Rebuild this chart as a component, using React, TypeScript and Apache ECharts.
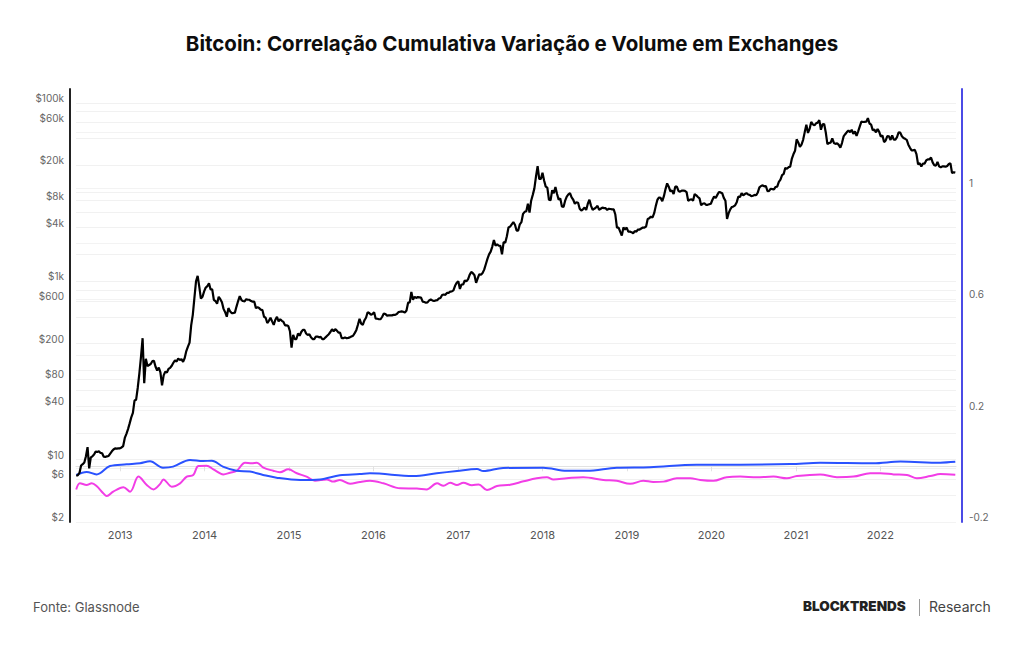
import { useEffect, useRef } from "react";
import * as echarts from "echarts";

// Weekly BTC closes (USD); each list starts on the Monday given in PRICE_STARTS.
const PRICE_2012 = [6.6, 6.7, 7.1, 8.6, 8.9, 9.3, 10.9, 13.8, 8.0, 10.6, 10.9, 11.4, 12.3, 12.2, 12.4, 11.9, 11.8, 10.8, 10.7, 10.9, 11.0, 11.7, 12.4, 13.0, 13.4, 13.3, 13.4, 13.4];
const PRICE_2013 = [13.7, 14.2, 17.5, 19.5, 22.0, 25.5, 29.8, 33.5, 46, 47, 64, 93, 142, 230, 72, 135, 112, 115, 118, 127, 128, 110, 100, 108, 95, 68, 88, 97, 95, 104, 107, 113, 122, 130, 126, 136, 131, 134, 125, 138, 165, 185, 205, 320, 420, 650, 1000, 1150, 870, 640, 670, 770];
const PRICE_2014 = [850, 880, 950, 810, 810, 620, 600, 560, 670, 630, 580, 490, 450, 400, 500, 460, 440, 440, 445, 520, 600, 680, 620, 600, 595, 630, 620, 620, 600, 590, 590, 500, 510, 500, 480, 475, 400, 390, 340, 360, 390, 355, 325, 370, 400, 355, 375, 360, 350, 320, 320, 315];
const PRICE_2015 = [275, 180, 250, 225, 225, 260, 245, 270, 285, 285, 260, 250, 255, 235, 225, 225, 240, 240, 235, 238, 225, 225, 235, 245, 255, 270, 290, 275, 290, 280, 265, 265, 230, 230, 235, 230, 232, 235, 240, 245, 262, 283, 325, 380, 335, 325, 365, 390, 450, 440, 420, 430];
const PRICE_2016 = [450, 380, 380, 375, 375, 400, 435, 430, 410, 415, 415, 415, 420, 420, 430, 450, 455, 460, 455, 445, 470, 575, 580, 760, 620, 670, 650, 665, 660, 655, 590, 585, 575, 580, 610, 625, 610, 600, 610, 615, 640, 650, 700, 710, 705, 740, 740, 765, 770, 790, 890, 960];
const PRICE_2017 = [1000, 820, 920, 920, 1020, 1000, 1050, 1180, 1270, 1230, 1170, 960, 1080, 1200, 1180, 1240, 1350, 1550, 1780, 2000, 2150, 2450, 2900, 2500, 2600, 2500, 2500, 2000, 2750, 2700, 3200, 4000, 4100, 4350, 4600, 4300, 3700, 3700, 4350, 4600, 5700, 6000, 6100, 7400, 5900, 8000, 9300, 11000, 15000, 19500, 14000, 14000];
const PRICE_2018 = [16500, 13500, 11500, 11200, 8200, 8100, 10500, 9700, 11400, 9500, 8200, 8500, 6900, 6800, 8000, 8900, 9400, 9700, 8700, 8200, 7400, 7700, 7600, 6500, 6200, 6400, 6700, 6300, 7400, 8200, 7000, 6300, 6500, 6700, 7000, 6300, 6500, 6700, 6600, 6600, 6300, 6500, 6450, 6400, 6400, 5600, 4000, 4000, 3600, 3250, 4000, 3800, 4000];
const PRICE_2019 = [3600, 3600, 3550, 3450, 3650, 3600, 3800, 3800, 3900, 4000, 4000, 4100, 5000, 5100, 5300, 5200, 5800, 7000, 8200, 8700, 8600, 7900, 9000, 10800, 12500, 11500, 10200, 10400, 9500, 11500, 11500, 10300, 10100, 10400, 10400, 10300, 10000, 8000, 8200, 8300, 8000, 9500, 9200, 8800, 8500, 7100, 7400, 7500, 7200, 7200, 7300, 7400];
const PRICE_2020 = [8200, 8900, 8600, 9300, 10000, 9900, 9700, 8600, 8000, 5000, 5800, 6400, 6800, 6900, 7100, 7700, 8900, 8800, 9700, 9200, 9500, 9700, 9400, 9300, 9000, 9100, 9300, 9200, 9900, 11300, 11700, 11900, 11600, 11700, 10200, 10300, 10900, 10800, 10700, 11400, 11500, 13000, 13800, 15500, 16000, 18700, 18200, 19000, 19200, 23500, 26500, 29000];
const PRICE_2021 = [39000, 36000, 32000, 34000, 38500, 47000, 57000, 46000, 51000, 61000, 57500, 55800, 59000, 60000, 64000, 50000, 57500, 58000, 46500, 34500, 35500, 35800, 40000, 35500, 34700, 35300, 33800, 31500, 35400, 42000, 44500, 47000, 49000, 47000, 49900, 45000, 48000, 42700, 48000, 54500, 61500, 61000, 61300, 61500, 67500, 58700, 57000, 49400, 50100, 46700, 50800, 47300];
const PRICE_2022 = [41800, 43100, 36300, 37900, 42400, 42200, 38400, 43200, 38800, 38800, 41300, 46800, 46400, 42200, 40400, 39500, 38500, 34000, 31300, 29400, 29400, 29800, 26600, 20500, 21000, 19300, 20900, 20800, 22600, 23300, 23200, 24400, 21500, 20000, 19800, 21800, 19400, 18900, 19400, 19400, 19200, 19600, 20600, 21000, 16300, 16700, 16500];

const PRICE_STARTS: [string, number[]][] = [
  ["2012-06-25", PRICE_2012],
  ["2013-01-07", PRICE_2013],
  ["2014-01-06", PRICE_2014],
  ["2015-01-05", PRICE_2015],
  ["2016-01-04", PRICE_2016],
  ["2017-01-02", PRICE_2017],
  ["2018-01-01", PRICE_2018],
  ["2019-01-07", PRICE_2019],
  ["2020-01-06", PRICE_2020],
  ["2021-01-04", PRICE_2021],
  ["2022-01-03", PRICE_2022],
];

// Cumulative correlation (right axis)
const CORR_BLUE: [string, number][] = [
  ["2012-06-25", -0.031], ["2012-08-09", -0.02], ["2012-09-21", -0.029], ["2012-11-18", 0.001],
  ["2013-01-29", 0.007], ["2013-03-28", 0.011], ["2013-05-10", 0.018], ["2013-07-05", -0.005],
  ["2013-08-18", -0.001], ["2013-10-30", 0.023], ["2013-12-25", 0.019], ["2014-02-01", 0.02],
  ["2014-03-21", -0.001], ["2014-05-19", -0.016], ["2014-07-16", -0.019], ["2014-09-11", -0.031],
  ["2014-11-08", -0.041], ["2015-02-18", -0.049], ["2015-05-15", -0.047], ["2015-08-09", -0.032],
  ["2015-11-03", -0.028], ["2015-12-17", -0.025], ["2016-06-21", -0.035], ["2016-10-01", -0.025],
  ["2016-12-27", -0.017], ["2017-03-24", -0.01], ["2017-04-20", -0.017], ["2017-07-15", -0.006],
  ["2018-01-04", -0.005], ["2018-04-16", -0.016], ["2018-07-11", -0.016], ["2018-11-18", -0.005],
  ["2019-04-11", -0.003], ["2019-10-30", 0.006], ["2020-05-06", 0.006], ["2020-12-08", 0.008],
  ["2021-04-16", 0.013], ["2021-12-01", 0.011], ["2022-03-29", 0.017], ["2022-09-17", 0.013],
  ["2022-11-21", 0.016],
];

const CORR_PINK: [string, number][] = [
  ["2012-06-25", -0.083], ["2012-07-11", -0.061], ["2012-08-09", -0.067], ["2012-08-31", -0.061],
  ["2012-09-21", -0.071], ["2012-10-20", -0.097], ["2012-11-04", -0.107], ["2012-12-02", -0.091],
  ["2013-01-15", -0.075], ["2013-02-13", -0.091], ["2013-03-21", -0.037], ["2013-04-26", -0.067],
  ["2013-05-25", -0.083], ["2013-06-23", -0.063], ["2013-07-07", -0.047], ["2013-08-12", -0.073],
  ["2013-09-17", -0.061], ["2013-10-16", -0.037], ["2013-11-13", -0.031], ["2013-12-05", 0.001],
  ["2014-01-10", 0.002], ["2014-02-08", -0.011], ["2014-03-23", -0.029], ["2014-04-21", -0.023],
  ["2014-05-20", -0.016], ["2014-06-25", 0.013], ["2014-07-24", 0.011], ["2014-08-15", 0.013],
  ["2014-09-12", -0.005], ["2014-10-25", -0.016], ["2014-11-23", -0.021], ["2014-12-29", -0.011],
  ["2015-02-04", -0.025], ["2015-03-18", -0.037], ["2015-04-23", -0.052], ["2015-06-13", -0.047],
  ["2015-07-12", -0.055], ["2015-08-09", -0.049], ["2015-09-22", -0.063], ["2015-11-04", -0.056],
  ["2015-12-17", -0.052], ["2016-02-13", -0.061], ["2016-04-26", -0.079], ["2016-07-07", -0.08],
  ["2016-08-18", -0.083], ["2016-10-02", -0.061], ["2016-10-30", -0.07], ["2016-11-28", -0.059],
  ["2016-12-27", -0.067], ["2017-01-24", -0.059], ["2017-03-02", -0.068], ["2017-03-31", -0.065],
  ["2017-05-06", -0.085], ["2017-06-18", -0.071], ["2017-08-14", -0.066], ["2017-10-11", -0.054],
  ["2017-12-07", -0.043], ["2018-01-20", -0.039], ["2018-02-17", -0.047], ["2018-04-16", -0.043],
  ["2018-06-26", -0.039], ["2018-09-21", -0.049], ["2018-11-18", -0.052], ["2019-01-15", -0.063],
  ["2019-03-13", -0.052], ["2019-04-25", -0.056], ["2019-06-08", -0.055], ["2019-08-05", -0.043],
  ["2019-10-02", -0.043], ["2019-11-14", -0.049], ["2020-01-10", -0.052], ["2020-03-08", -0.039],
  ["2020-05-05", -0.037], ["2020-07-16", -0.039], ["2020-09-26", -0.037], ["2020-11-23", -0.043],
  ["2021-01-05", -0.035], ["2021-04-16", -0.029], ["2021-06-27", -0.039], ["2021-09-07", -0.037],
  ["2021-11-18", -0.025], ["2022-01-01", -0.025], ["2022-02-27", -0.029], ["2022-04-26", -0.031],
  ["2022-06-08", -0.043], ["2022-08-05", -0.035], ["2022-09-17", -0.028], ["2022-11-21", -0.03],
];

const YEAR_TICKS = ["2013-01-01", "2014-01-01", "2015-01-01", "2016-01-01", "2017-01-01", "2018-01-01", "2019-01-01", "2020-01-01", "2021-01-01", "2022-01-01"];
const PRICE_LABELS = [2, 6, 10, 40, 80, 200, 600, 1000, 4000, 8000, 20000, 60000, 100000];
const PRICE_GRID = [2, 4, 6, 8, 10, 20, 40, 60, 80, 100, 200, 400, 600, 800, 1000, 2000, 4000, 6000, 8000, 10000, 20000, 40000, 60000, 80000, 100000];
const CORR_LABELS = [-0.2, 0.2, 0.6, 1];
const CORR_GRID = [-0.2, 0, 0.2, 0.4, 0.6, 0.8, 1, 1.2];

const DAY = 24 * 3600 * 1000;
const ts = (d: string) => Date.parse(d + "T00:00:00Z");

function buildPriceSeries(): [number, number][] {
  const out: [number, number][] = [];
  for (const [start, values] of PRICE_STARTS) {
    const t0 = ts(start);
    values.forEach((v, i) => out.push([t0 + i * 7 * DAY, v]));
  }
  return out;
}

const FONT = "Inter, 'Noto Sans', sans-serif";

export default function App() {
  const ref = useRef<HTMLDivElement>(null);

  useEffect(() => {
    if (!ref.current) return;
    const chart = echarts.init(ref.current, null, { renderer: "svg" });

    const priceLabel = (v: number) => {
      const r = Math.round(v);
      return r >= 1000 ? `$${Math.round(r / 1000)}k` : `$${r}`;
    };
    const yearTicks = YEAR_TICKS.map(ts);

    chart.setOption({
      animation: false,
      backgroundColor: "#ffffff",
      title: {
        text: "Bitcoin: Correlação Cumulativa Variação e Volume em Exchanges",
        left: "center",
        top: 28,
        textStyle: { fontFamily: FONT, fontSize: 20.5, fontWeight: "bold", color: "#0d0d0d" },
      },
      grid: { left: 76, right: 68, top: 89, bottom: 123, containLabel: false },
      xAxis: {
        type: "value",
        min: ts("2012-06-24"),
        max: ts("2022-11-24"),
        axisLine: { show: true, lineStyle: { color: "#e2e2e2", width: 1 } },
        axisTick: {
          show: true,
          length: 5,
          lineStyle: { color: "#e2e2e2" },
          customValues: yearTicks,
        },
        axisLabel: {
          customValues: yearTicks,
          formatter: (v: number) => String(new Date(v).getUTCFullYear()),
          color: "#555555",
          fontFamily: FONT,
          fontSize: 11,
          margin: 7,
        },
        splitLine: { show: false },
      },
      yAxis: [
        {
          type: "log",
          logBase: 10,
          position: "left",
          offset: 6,
          min: 2,
          max: 143000,
          axisLine: { show: true, lineStyle: { color: "#222222", width: 2 } },
          axisTick: { show: false, customValues: PRICE_GRID },
          axisLabel: {
            customValues: PRICE_LABELS,
            formatter: priceLabel,
            color: "#666666",
            fontFamily: FONT,
            fontSize: 10,
            margin: 6,
            verticalAlign: "bottom",
            lineHeight: 10,
          },
          splitLine: { show: true, lineStyle: { color: "#f1f1f1", width: 1 } },
        },
        {
          type: "value",
          position: "right",
          offset: 6,
          min: -0.2,
          max: 1.355,
          axisLine: { show: true, lineStyle: { color: "#4b4be6", width: 2 } },
          axisTick: { show: false, customValues: CORR_GRID },
          axisLabel: {
            customValues: CORR_LABELS,
            formatter: (v: number) => String(Math.round(v * 10) / 10),
            color: "#666666",
            fontFamily: FONT,
            fontSize: 10,
            margin: 7,
            verticalAlign: "bottom",
            lineHeight: 10,
          },
          splitLine: { show: true, lineStyle: { color: "#f3f3f3", width: 1 } },
        },
      ],
      series: [
        {
          name: "Correlação (volume)",
          type: "line",
          yAxisIndex: 1,
          data: CORR_PINK.map(([d, v]) => [ts(d), v]),
          showSymbol: false,
          smooth: 0.35,
          lineStyle: { color: "#f23de6", width: 2 },
        },
        {
          name: "Correlação (variação)",
          type: "line",
          yAxisIndex: 1,
          data: CORR_BLUE.map(([d, v]) => [ts(d), v]),
          showSymbol: false,
          smooth: 0.35,
          lineStyle: { color: "#2a52ff", width: 2 },
        },
        {
          name: "Preço BTC",
          type: "line",
          yAxisIndex: 0,
          data: buildPriceSeries(),
          showSymbol: false,
          lineStyle: { color: "#000000", width: 2.2 },
        },
      ],
      graphic: [
        {
          type: "text",
          left: 33,
          top: 600,
          style: { text: "Fonte: Glassnode", fill: "#555555", font: `13px ${FONT}` },
        },
        {
          type: "text",
          left: 803,
          top: 599,
          style: { text: "BLOCKTRENDS", fill: "#222222", font: `900 13.5px ${FONT}` },
        },
        {
          type: "line",
          shape: { x1: 919.5, y1: 599, x2: 919.5, y2: 616 },
          style: { stroke: "#9a9a9a", lineWidth: 1 },
        },
        {
          type: "text",
          left: 929,
          top: 599,
          style: { text: "Research", fill: "#444444", font: `14px ${FONT}` },
        },
      ],
    });

    return () => chart.dispose();
  }, []);

  return (
    <div
      ref={ref}
      style={{ position: "absolute", left: 0, top: 0, width: 1024, height: 645, background: "#fff" }}
    />
  );
}
